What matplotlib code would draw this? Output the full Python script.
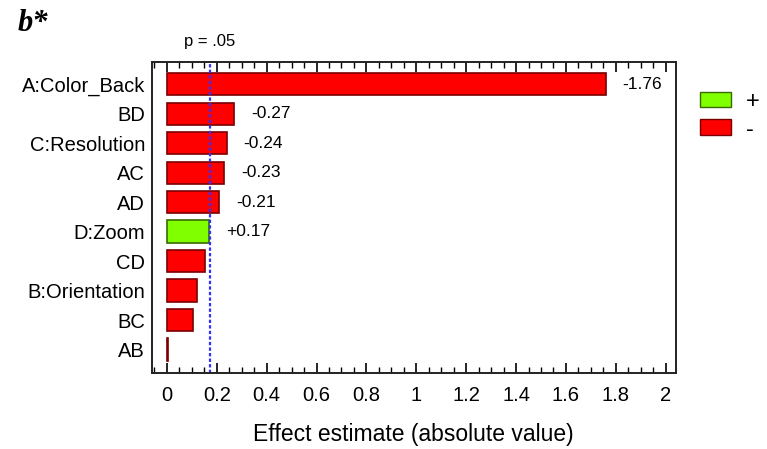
import numpy as np
import matplotlib.pyplot as plt
from matplotlib.patches import Patch
from matplotlib.ticker import MultipleLocator

plt.rcParams['font.family'] = ['Liberation Sans', 'DejaVu Sans']

# Effects, sorted by absolute size
effects = ["A:Color_Back", "BD", "C:Resolution", "AC", "AD",
           "D:Zoom", "CD", "B:Orientation", "BC", "AB"]
estimates = [-1.76, -0.27, -0.24, -0.23, -0.21, 0.17, -0.155, -0.12, -0.105, -0.005]
labelled = [True, True, True, True, True, True, False, False, False, False]
p_limit = 0.172

red, green = "#ff0000", "#80ff00"
red_edge, green_edge = "#7a0000", "#3a6a00"

fig = plt.figure(figsize=(7.67, 4.49), dpi=100)
ax = fig.add_axes([0.198, 0.169, 0.683, 0.693])

ypos = np.arange(len(effects))
mag = np.abs(estimates)
colors = [green if v > 0 else red for v in estimates]
edges = [green_edge if v > 0 else red_edge for v in estimates]
ax.barh(ypos, mag, height=0.75, color=colors, edgecolor=edges, linewidth=1.2)

for y, v, show in zip(ypos, estimates, labelled):
    if show:
        txt = f"+{v:.2f}" if v > 0 else f"{v:.2f}"
        ax.annotate(txt, (abs(v), y), xytext=(12, 0), textcoords="offset points",
                    va="center", ha="left", fontsize=12.5)

ax.axvline(p_limit, color="#3030ff", linestyle=(0, (1.5, 1)), linewidth=1.6)
ax.text(p_limit, -1.2, "p = .05", ha="center", va="bottom", fontsize=12,
        transform=ax.transData, clip_on=False)

ax.set_xlim(-0.06, 2.04)
ax.set_ylim(9.8, -0.75)
ax.set_yticks(ypos)
ax.set_yticklabels(effects, fontsize=14.5)
ax.tick_params(axis="y", length=0, pad=5)
ax.xaxis.set_major_locator(MultipleLocator(0.2))
ax.xaxis.set_minor_locator(MultipleLocator(0.05))
ax.set_xticks(np.arange(0, 2.01, 0.2))
ax.set_xticklabels(["0", "0.2", "0.4", "0.6", "0.8", "1", "1.2", "1.4", "1.6", "1.8", "2"])
ax.tick_params(axis="x", which="both", direction="in", top=True, labelsize=14.5, pad=9)
ax.tick_params(axis="x", which="major", length=7, width=1.2)
ax.tick_params(axis="x", which="minor", length=4, width=1)
ax.set_xlabel("Effect estimate (absolute value)", fontsize=16.5, labelpad=13)
for s in ax.spines.values():
    s.set_linewidth(1.4)
    s.set_color("#222222")

handles = [Patch(facecolor=green, edgecolor=green_edge, label="+"),
           Patch(facecolor=red, edgecolor=red_edge, label="-")]
fig.legend(handles=handles, loc="upper left", bbox_to_anchor=(0.912, 0.798),
           frameon=False, fontsize=17, handlelength=1.35, handleheight=0.65,
           handletextpad=0.6, labelspacing=0.25, borderpad=0, borderaxespad=0)

fig.text(0.023, 0.93, "b*", fontsize=22, fontweight="bold", fontstyle="italic",
         family="Liberation Serif")

fig.savefig("out.png", dpi=100)
